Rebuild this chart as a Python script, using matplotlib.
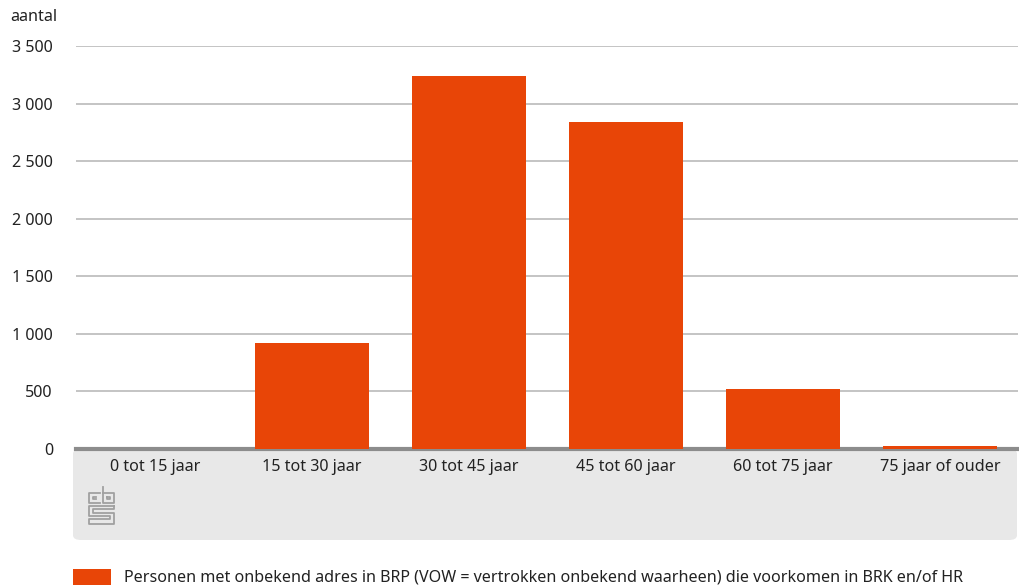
import matplotlib.pyplot as plt
from matplotlib.patches import FancyBboxPatch, Rectangle
from matplotlib.lines import Line2D

# leeftijdsgroepen en aantallen
categories = ['0 tot 15 jaar', '15 tot 30 jaar', '30 tot 45 jaar',
              '45 tot 60 jaar', '60 tot 75 jaar', '75 jaar of ouder']
values = [0, 920, 3240, 2840, 525, 25]
yticks = [0, 500, 1000, 1500, 2000, 2500, 3000, 3500]
yticklabels = ['0', '500', '1 000', '1 500', '2 000', '2 500', '3 000', '3 500']
legend_label = ('Personen met onbekend adres in BRP (VOW = vertrokken onbekend '
                'waarheen) die voorkomen in BRK en/of HR')

orange = '#e84507'
plt.rcParams['font.family'] = ['Noto Sans', 'DejaVu Sans']
fs = 11.6

W, H = 1020, 586
fig = plt.figure(figsize=(W/100, H/100), dpi=100)

# grijze band onder de x-as
band = FancyBboxPatch((73/W, 1-540/H), (1017-73)/W, (540-449)/H,
                      boxstyle='round,pad=0,rounding_size=0.008',
                      transform=fig.transFigure, fc='#e8e8e8', ec='none',
                      zorder=-5)
fig.patches.append(band)

ax = fig.add_axes([76.5/W, 1-449/H, (1018.5-76.5)/W, (449-46)/H])
ax.set_facecolor('none')
x = list(range(len(categories)))
ax.bar(x, values, width=0.73, color=orange, zorder=3)
ax.set_xlim(-0.5, len(categories)-0.5)
ax.set_ylim(0, 3500)
ax.set_yticks(yticks)
ax.set_yticklabels(yticklabels, fontsize=fs, color='#222222')
ax.set_xticks(x)
ax.set_xticklabels(categories, fontsize=fs, color='#222222')
ax.tick_params(axis='both', length=0)
ax.tick_params(axis='y', pad=17)
ax.tick_params(axis='x', pad=7)
ax.get_yticklabels()[0].set_y(-0.0)
ax.grid(axis='y', color='#b4b4b4', lw=1.1, zorder=0)
for s in ['top', 'right', 'left']:
    ax.spines[s].set_visible(False)
ax.spines['bottom'].set_color('#8c8c8c')
ax.spines['bottom'].set_linewidth(3)
ax.spines['bottom'].set_zorder(2)

fig.text(10/W, 1-17/H, 'aantal', fontsize=fs, color='#222222', va='center')

# cbs logo (vereenvoudigd)
lc = '#a0a0a0'
def seg(xs, ys):
    fig.add_artist(Line2D([v/W for v in xs], [1-v/H for v in ys],
                          transform=fig.transFigure, color=lc, lw=1.3))
seg([100, 89, 89, 100], [493, 493, 503, 503])
seg([96, 93, 93, 96], [497, 497, 499, 499])
seg([103, 103, 114, 114, 103], [487, 503, 503, 493, 493])
seg([107, 110, 110, 107, 107], [497, 497, 499, 499, 497])
seg([114, 89, 89, 110, 110, 89, 89, 114, 114, 93, 93, 114, 114], [506, 506, 516, 516, 519, 519, 524, 524, 513, 513, 509, 509, 506])

# legenda
fig.patches.append(Rectangle((73/W, 1-585/H), 38/W, 16/H,
                             transform=fig.transFigure, fc=orange, ec='none'))
fig.text(124/W, 1-577/H, legend_label, fontsize=fs, color='#222222', va='center')

fig.savefig('out.png', dpi=100)
